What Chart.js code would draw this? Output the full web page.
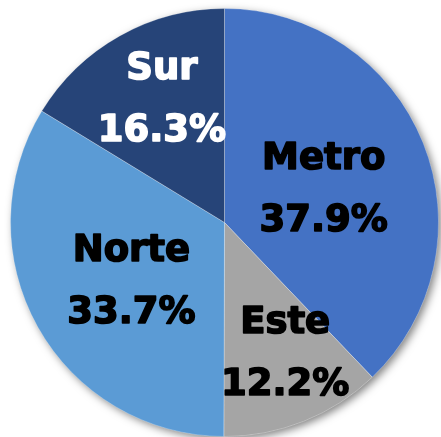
<!DOCTYPE html>
<html>
<head>
<meta charset="utf-8">
<script src="https://cdn.jsdelivr.net/npm/chart.js@4/dist/chart.umd.min.js"></script>
<style>
  html, body { margin: 0; padding: 0; background: #fff; }
  #wrap { width: 441px; height: 437px; overflow: hidden; }
</style>
</head>
<body>
<div id="wrap"><canvas id="myChart" width="441" height="437"></canvas></div>
<script>
// data
const regions = ['Metro', 'Este', 'Norte', 'Sur'];
const shares = [37.9, 12.2, 33.7, 16.3];
const sliceColors = ['#4472C4', '#A5A5A5', '#5B9BD5', '#264478'];
const labelColors = ['#000000', '#000000', '#000000', '#ffffff'];
// label placement: fraction of radius, and small angle nudge (degrees)
const labelDist = [0.494, 0.662, 0.508, 0.657];
const labelNudge = [1.7, -3.6, -1.9, 2.9];

// soft shadow behind the whole pie
const pieShadow = {
  id: 'pieShadow',
  beforeDatasetsDraw(chart) {
    const arc = chart.getDatasetMeta(0).data[0];
    if (!arc) return;
    const ctx = chart.ctx;
    ctx.save();
    ctx.shadowColor = 'rgba(0,0,0,0.5)';
    ctx.shadowBlur = 8;
    ctx.shadowOffsetX = 3;
    ctx.shadowOffsetY = 3;
    ctx.fillStyle = '#ffffff';
    ctx.beginPath();
    ctx.arc(arc.x, arc.y, arc.outerRadius - 0.5, 0, Math.PI * 2);
    ctx.fill();
    ctx.restore();
  }
};

// labels inside the slices
const sliceLabels = {
  id: 'sliceLabels',
  afterDatasetsDraw(chart) {
    const ctx = chart.ctx;
    const meta = chart.getDatasetMeta(0);
    ctx.save();
    ctx.font = 'bold 37px "DejaVu Sans"';
    ctx.textAlign = 'center';
    ctx.textBaseline = 'middle';
    ctx.lineWidth = 1.6;
    ctx.lineJoin = 'round';
    meta.data.forEach((arc, i) => {
      const mid = (arc.startAngle + arc.endAngle) / 2 + labelNudge[i] * Math.PI / 180;
      const r = arc.outerRadius * labelDist[i];
      const x = arc.x + Math.cos(mid) * r;
      const y = arc.y + Math.sin(mid) * r + 4;
      ctx.fillStyle = labelColors[i];
      ctx.strokeStyle = labelColors[i];
      const lines = [regions[i], shares[i].toFixed(1) + '%'];
      lines.forEach((t, k) => {
        const ly = y + (k === 0 ? -31 : 31);
        ctx.fillText(t, x, ly);
        ctx.strokeText(t, x, ly);
      });
    });
    ctx.restore();
  }
};

const ctx = document.getElementById('myChart').getContext('2d');
const myPie = new Chart(ctx, {
  type: 'pie',
  data: {
    labels: regions,
    datasets: [{
      data: shares,
      backgroundColor: sliceColors,
      borderColor: 'rgba(255,255,255,0.25)',
      borderWidth: 1
    }]
  },
  options: {
    responsive: false,
    animation: false,
    layout: { padding: { left: 10, right: 2, top: 8, bottom: 0 } },
    plugins: {
      legend: { display: false },
      tooltip: { enabled: false }
    }
  },
  plugins: [pieShadow, sliceLabels]
});
</script>
</body>
</html>
